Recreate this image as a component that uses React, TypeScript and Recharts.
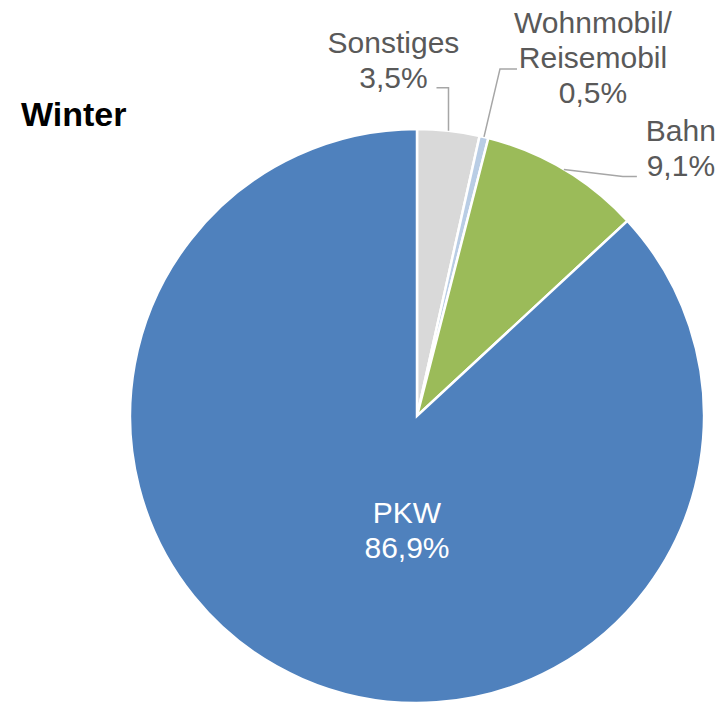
import React from "react";
import { PieChart, Pie, Cell } from "recharts";

// Verkehrsmittel im Winter, Anteile in Prozent (Reihenfolge im Uhrzeigersinn ab 12 Uhr)
const categories = ["Sonstiges", "Wohnmobil/Reisemobil", "Bahn", "PKW"];
const values = [3.5, 0.5, 9.1, 86.9];
const labelTexts = [["Sonstiges"], ["Wohnmobil/", "Reisemobil"], ["Bahn"], ["PKW"]];
const colors = ["#D9D9D9", "#B9CDE5", "#9BBB59", "#4F81BD"];

const data = categories.map((name, i) => ({ name, value: values[i] }));

const RAD = Math.PI / 180;
const FONT = "'Liberation Sans', Arial, sans-serif";
const LINE_H = 35;

// label placement relative to the point on the outer edge (or the centre for PKW)
const labelLayout: Record<string, any> = {
  Sonstiges: { dx: -55, lastDy: -43, leader: [[0, -43], [-12, -43]] },
  "Wohnmobil/Reisemobil": { dx: 109, lastDy: -34, leader: [[16, -68], [33, -68]] },
  Bahn: { dx: 117, lastDy: 7, leader: [[59, 7], [73, 7]] },
  PKW: { inside: true, dx: -10, lastDy: 142 },
};

const fmt = (v: number) => v.toFixed(1).replace(".", ",") + "%";

const renderLabel = (props: any) => {
  const { cx, cy, midAngle, outerRadius, index } = props;
  const name = categories[index];
  const layout = labelLayout[name];
  const lines = [...labelTexts[index], fmt(values[index])];
  const ex = cx + outerRadius * Math.cos(-midAngle * RAD);
  const ey = cy + outerRadius * Math.sin(-midAngle * RAD);
  const ox = layout.inside ? cx : ex;
  const oy = layout.inside ? cy : ey;
  const fill = layout.inside ? "#FFFFFF" : "#595959";
  const pts = layout.leader
    ? [[ex, ey], ...layout.leader.map((p: number[]) => [ex + p[0], ey + p[1]])]
    : null;
  return (
    <g key={`lbl-${index}`}>
      {pts && (
        <polyline
          points={pts.map((p: number[]) => p.join(",")).join(" ")}
          fill="none"
          stroke="#A6A6A6"
          strokeWidth={1.5}
        />
      )}
      <text
        textAnchor="middle"
        fill={fill}
        fontFamily={FONT}
        fontSize={30}
      >
        {lines.map((t, i) => (
          <tspan
            key={i}
            x={ox + layout.dx}
            y={oy + layout.lastDy - (lines.length - 1 - i) * LINE_H}
          >
            {t}
          </tspan>
        ))}
      </text>
    </g>
  );
};

export default function App() {
  return (
    <div style={{ position: "absolute", left: 0, top: 0, width: 727, height: 705, background: "#fff" }}>
      <div
        style={{
          position: "absolute",
          left: 21,
          top: 97,
          fontFamily: FONT,
          fontWeight: "bold",
          fontSize: 34,
          lineHeight: 1,
          color: "#000",
        }}
      >
        Winter
      </div>
      <PieChart width={727} height={705} margin={{ top: 0, right: 0, bottom: 0, left: 0 }}>
        <Pie
          data={data}
          dataKey="value"
          nameKey="name"
          cx={417}
          cy={416}
          outerRadius={287}
          startAngle={90}
          endAngle={-270}
          stroke="#FFFFFF"
          strokeWidth={2.5}
          label={renderLabel}
          labelLine={false}
          isAnimationActive={false}
        >
          {data.map((d, i) => (
            <Cell key={d.name} fill={colors[i]} />
          ))}
        </Pie>
      </PieChart>
    </div>
  );
}
